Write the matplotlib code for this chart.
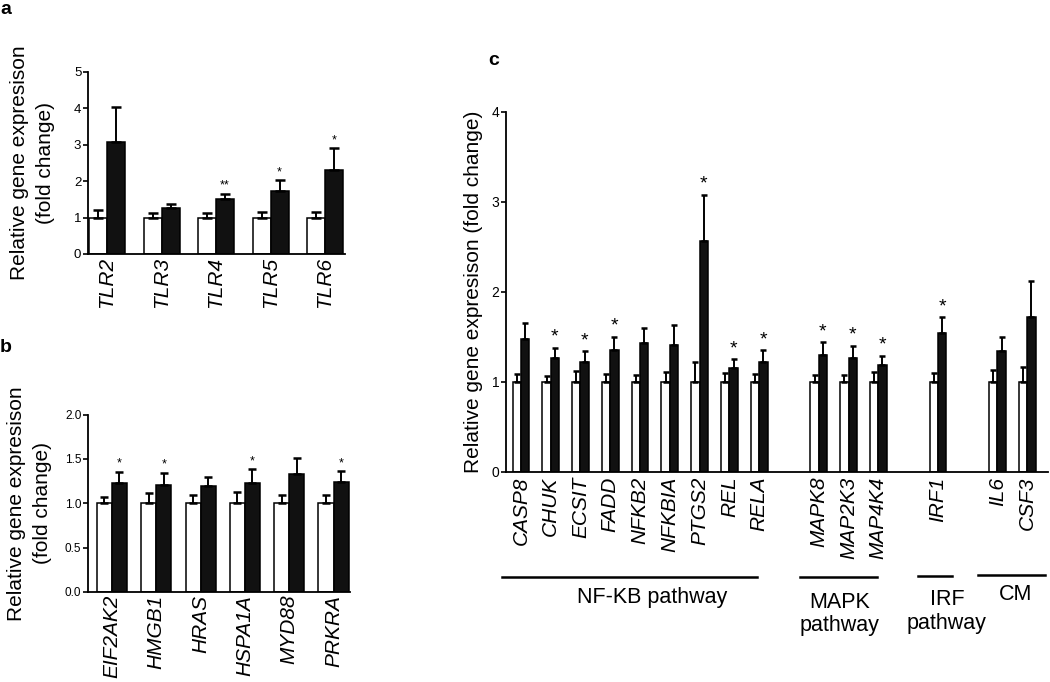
import numpy as np
import matplotlib
matplotlib.use('Agg')
import matplotlib.pyplot as plt

plt.rcParams['font.family'] = ['Liberation Sans', 'DejaVu Sans']

# ---------------------------
# panel a: TLR genes
# ---------------------------
a_genes = ['TLR2', 'TLR3', 'TLR4', 'TLR5', 'TLR6']
a_ctrl = [1.0, 1.0, 1.0, 1.0, 1.0]
a_ctrl_err = [0.21, 0.12, 0.12, 0.14, 0.15]
a_treat = [3.08, 1.27, 1.51, 1.73, 2.32]
a_treat_err = [0.96, 0.10, 0.15, 0.30, 0.58]
a_sig = ['', '', '**', '*', '*']

# ---------------------------
# panel b
# ---------------------------
b_genes = ['EIF2AK2', 'HMGB1', 'HRAS', 'HSPA1A', 'MYD88', 'PRKRA']
b_ctrl = [1.0, 1.0, 1.0, 1.0, 1.0, 1.0]
b_ctrl_err = [0.075, 0.12, 0.094, 0.124, 0.094, 0.09]
b_treat = [1.233, 1.207, 1.19, 1.225, 1.33, 1.24]
b_treat_err = [0.124, 0.14, 0.11, 0.158, 0.185, 0.12]
b_sig = ['*', '*', '', '*', '', '*']

# ---------------------------
# panel c: pathway genes
# ---------------------------
c_pathways = ['NF-KB pathway', 'MAPK\npathway', 'IRF\npathway', 'CM']
c_pathway_genes = [
    ['CASP8', 'CHUK', 'ECSIT', 'FADD', 'NFKB2', 'NFKBIA', 'PTGS2', 'REL', 'RELA'],
    ['MAPK8', 'MAP2K3', 'MAP4K4'],
    ['IRF1'],
    ['IL6', 'CSF3'],
]
c_ctrl = [1.0] * 15
c_ctrl_err = [0.09, 0.07, 0.12, 0.09, 0.08, 0.11, 0.22, 0.10, 0.09,
              0.08, 0.08, 0.11, 0.10, 0.13, 0.17]
c_treat = [1.477, 1.27, 1.22, 1.355, 1.43, 1.41, 2.56, 1.16, 1.22,
           1.30, 1.27, 1.19, 1.54, 1.34, 1.72]
c_treat_err = [0.183, 0.11, 0.12, 0.145, 0.17, 0.22, 0.52, 0.09, 0.13,
               0.14, 0.13, 0.10, 0.18, 0.16, 0.40]
c_sig = ['', '*', '*', '*', '', '', '*', '*', '*',
         '*', '*', '*', '*', '', '']

YLAB2 = 'Relative gene expresison\n(fold change)'


def bar_panel(ax, x, ctrl, ctrl_err, treat, treat_err, sig, w, capsize,
              star_size, star_off, lw=1.1):
    x = np.asarray(x, dtype=float)
    zeros = np.zeros(len(x))
    ax.bar(x - w / 2, ctrl, w, color='white', edgecolor='black', linewidth=lw, zorder=2)
    ax.bar(x + w / 2, treat, w, color='#111111', edgecolor='black', linewidth=lw, zorder=2)
    ax.errorbar(x - w / 2, ctrl, yerr=[zeros, ctrl_err], fmt='none', ecolor='black',
                elinewidth=1.4, capsize=capsize, capthick=1.8, zorder=3)
    ax.errorbar(x + w / 2, treat, yerr=[zeros, treat_err], fmt='none', ecolor='black',
                elinewidth=1.4, capsize=capsize, capthick=1.8, zorder=3)
    for xi, t, e, s in zip(x, treat, treat_err, sig):
        if s:
            ax.annotate(s, (xi + w / 2, t + e), xytext=(0, star_off), textcoords='offset points',
                        ha='center', va='baseline', fontsize=star_size)
    for side in ['top', 'right']:
        ax.spines[side].set_visible(False)
    for side in ['left', 'bottom']:
        ax.spines[side].set_linewidth(1.3)
    ax.tick_params(axis='x', length=0)
    ax.tick_params(axis='y', direction='out', length=3.8, width=1.2, pad=1)


fig = plt.figure(figsize=(10.5, 6.82), dpi=100)

# ---------------------------
# a
# ---------------------------
ax_a = fig.add_axes([0.0838, 0.6276, 0.245, 0.2669])
xa = np.arange(len(a_genes))
bar_panel(ax_a, xa, a_ctrl, a_ctrl_err, a_treat, a_treat_err, a_sig, 0.33, 3.5, 9, 3.6)
ax_a.set_xlim(-0.35, 4.37)
ax_a.set_ylim(0, 5)
ax_a.set_yticks(range(0, 6))
ax_a.tick_params(axis='y', labelsize=9.5)
ax_a.set_xticks(xa)
ax_a.set_xticklabels(a_genes, rotation=90, style='italic', fontsize=15)
ax_a.tick_params(axis='x', pad=2)
ax_a.set_ylabel(YLAB2, fontsize=15, linespacing=1.45)
ax_a.yaxis.set_label_coords(-0.13, 0.5)

# ---------------------------
# b
# ---------------------------
ax_b = fig.add_axes([0.0838, 0.132, 0.2495, 0.26])
xb = np.arange(len(b_genes))
bar_panel(ax_b, xb, b_ctrl, b_ctrl_err, b_treat, b_treat_err, b_sig, 0.34, 3, 9, 3.6)
ax_b.set_xlim(-0.54, 5.37)
ax_b.set_ylim(0, 2.0)
ax_b.set_yticks(np.arange(0, 2.01, 0.5))
ax_b.set_yticklabels(['%.1f' % v for v in np.arange(0, 2.01, 0.5)])
ax_b.tick_params(axis='y', labelsize=8.5)
ax_b.set_xticks(xb)
ax_b.set_xticklabels(b_genes, rotation=90, style='italic', fontsize=15)
ax_b.tick_params(axis='x', pad=2)
ax_b.set_ylabel(YLAB2, fontsize=15, linespacing=1.45)
ax_b.yaxis.set_label_coords(-0.137, 0.5)

# ---------------------------
# c
# ---------------------------
ax_c = fig.add_axes([0.4819, 0.308, 0.516, 0.528])
c_genes = []
xc = []
group_pos = []
pos = 0
for genes in c_pathway_genes:
    p = list(range(pos, pos + len(genes)))
    group_pos.append(p)
    xc += p
    c_genes += genes
    pos += len(genes) + 1
bar_panel(ax_c, xc, c_ctrl, c_ctrl_err, c_treat, c_treat_err, c_sig, 0.28, 2.5, 14, 4.3)
ax_c.set_xlim(-0.5, 17.69)
ax_c.set_ylim(0, 4)
ax_c.set_yticks(range(0, 5))
ax_c.tick_params(axis='y', labelsize=10)
ax_c.set_xticks(xc)
ax_c.set_xticklabels(c_genes, rotation=90, style='italic', fontsize=15)
ax_c.tick_params(axis='x', pad=3.5)
ax_c.set_ylabel('Relative gene expresison (fold change)', fontsize=15)
ax_c.yaxis.set_label_coords(-0.042, 0.5)

# pathway brackets under the gene names
line_left = [-0.65, -0.64, -0.68, -0.66]
line_right = [-0.06, -0.05, 0.46, 0.58]
line_y = [-0.291, -0.293, -0.290, -0.287]
text_dx = [0.41, -0.3, 0.3, 0.1]
text_y = [-0.35, -0.394, -0.387, -0.341]
trans = ax_c.get_xaxis_transform()
for name, p, l0, l1, ly, dx, ty in zip(c_pathways, group_pos, line_left, line_right,
                                       line_y, text_dx, text_y):
    ax_c.plot([p[0] + l0, p[-1] + l1], [ly, ly], color='black', lw=1.8,
              transform=trans, clip_on=False)
    ax_c.text(np.mean(p) + dx, ty, name, transform=trans, ha='center', va='center',
              fontsize=15.5, linespacing=1.15)

# panel letters
fig.text(0.0, 0.998, 'a', fontsize=14, fontweight='bold', va='top', ha='left')
fig.text(0.0, 0.503, 'b', fontsize=14, fontweight='bold', va='top', ha='left')
fig.text(0.465, 0.924, 'c', fontsize=14, fontweight='bold', va='top', ha='left')

fig.savefig('out.png', dpi=100)
